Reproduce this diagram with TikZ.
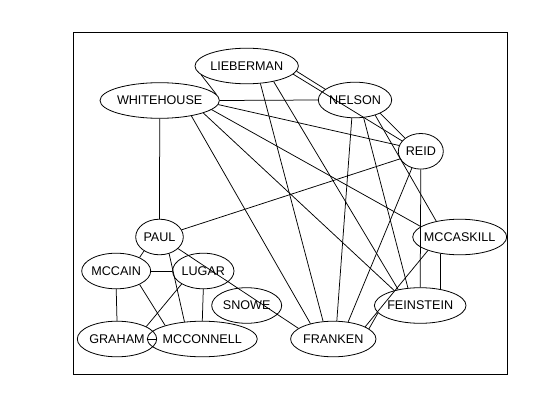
\documentclass[tikz,border=0pt]{standalone}
\usepackage{fontspec}
\setmainfont{Liberation Sans}
\usetikzlibrary{shapes.geometric}
\begin{document}
\begin{tikzpicture}[x=1pt,y=-1pt,
  senator/.style={draw, ellipse, line width=0.8pt, inner xsep=-6pt, inner ysep=0pt,
    minimum height=35.6pt, font=\fontsize{12.6}{14}\selectfont},
  tie/.style={line width=0.75pt},
  plotframe/.style={draw, line width=0.8pt, inner sep=0pt}]
\useasboundingbox (0,0) rectangle (560,420);
\fill[white] (0,0) rectangle (560,420);

% plot region border
\node[plotframe, minimum width=434pt, minimum height=341.3pt] (frame) at (290.3,203.35) {};

% senators
\node[senator, minimum width=103.4pt] (lieberman)  at (246.7,66)    {LIEBERMAN};
\node[senator, minimum width=119.4pt] (whitehouse) at (159.7,100.5) {WHITEHOUSE};
\node[senator, minimum width=73.4pt]  (nelson)     at (355,100)     {NELSON};
\node[senator, minimum width=45pt]    (reid)       at (420.8,151.3) {REID};
\node[senator, minimum width=47.6pt]  (paul)       at (159.5,237)   {PAUL};
\node[senator, minimum width=94pt]    (mccaskill)  at (459.7,237)   {MCCASKILL};
\node[senator, minimum width=69pt]    (mccain)     at (116.2,271)   {MCCAIN};
\node[senator, minimum width=61.4pt]  (lugar)      at (203.3,271)   {LUGAR};
\node[senator, minimum width=70pt]    (snowe)      at (246.7,305.5) {SNOWE};
\node[senator, minimum width=91.6pt]  (feinstein)  at (420.2,305.5) {FEINSTEIN};
\node[senator, minimum width=79.4pt]  (graham)     at (117,339)     {GRAHAM};
\node[senator, minimum width=110pt]   (mcconnell)  at (202.3,339)   {MCCONNELL};
\node[senator, minimum width=85.4pt]  (franken)    at (333.3,339)   {FRANKEN};

% ties between senators
\draw[tie] (whitehouse.east) -- (nelson.west);
\draw[tie] (lieberman.191) -- (whitehouse.6);
\draw[tie] (lieberman.354) -- (nelson.160);
\draw[tie] (lieberman.350) -- (reid.151);
\draw[tie] (lieberman.308) -- (franken.120);
\draw[tie] (lieberman.330) -- (feinstein.144);
\draw[tie] (whitehouse.334) -- (franken.146);
\draw[tie] (whitehouse.344) -- (feinstein.150);
\draw[tie] (whitehouse.350) -- (mccaskill.165);
\draw[tie] (whitehouse.356) -- (reid.165);
\draw[tie] (whitehouse.south) -- (paul.north);
\draw[tie] (nelson.260) -- (franken.79);
\draw[tie] (nelson.296) -- (feinstein.125);
\draw[tie] (nelson.332) -- (reid.140);
\draw[tie] (nelson.323) -- (mccaskill.146);
\draw[tie] (reid.200) -- (paul.18);
\draw[tie] (reid.242) -- (franken.49);
\draw[tie] (reid.south) -- (feinstein.north);
\draw[tie] (mccaskill.221) -- (feinstein.39);
\draw[tie] (mccaskill.203) -- (franken.21);
\draw[tie] (feinstein.190) -- (franken.16);
\draw[tie] (paul.328) -- (franken.163);
\draw[tie] (paul.222) -- (mccain.30);
\draw[tie] (paul.300) -- (mcconnell.136);
\draw[tie] (mccain.east) -- (lugar.west);
\draw[tie] (mccain.south) -- (graham.north);
\draw[tie] (mccain.330) -- (mcconnell.160);
\draw[tie] (lugar.211) -- (graham.23);
\draw[tie] (lugar.south) -- (mcconnell.north);
\draw[tie] (mcconnell.west) -- (graham.east);
\end{tikzpicture}
\end{document}
